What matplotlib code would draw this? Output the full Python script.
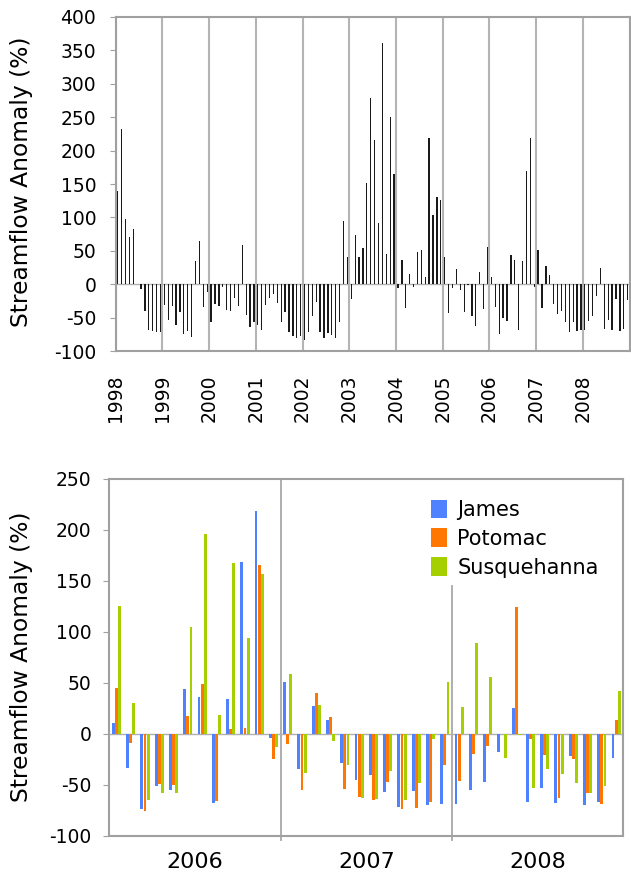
import numpy as np
import matplotlib.pyplot as plt

plt.rcParams["axes.unicode_minus"] = False

years = list(range(1998, 2009))

# monthly streamflow anomaly (%), Jan 1998 - Dec 2005
anom_1998_2005 = [
    140, 232, 98, 70, 82, 0, -7, -40, -68, -70, -72, -72,
    -31, -53, -33, -61, -42, -74, -70, -79, 35, 65, -34, -12,
    -56, -29, -32, -4, -38, -40, -21, -33, 59, -46, -64, -57,
    -61, -68, -31, -20, -14, -28, -56, -41, -72, -78, -81, -78,
    -83, -72, -47, -27, -72, -81, -73, -76, -80, -56, 94, 40,
    -22, 73, 40, 54, 151, 279, 216, 91, 361, 45, 250, 165,
    -5, 36, -35, 15, -4, 48, 51, 11, 219, 103, 130, 126,
    41, -43, -5, 23, -8, -41, -1, -48, -62, 19, -37, 55,
]

# 2006-2008, bottom panel
james = [
    11, -34, -74, -51, -55, 44, 36, -68, 34, 169, 219, -4,
    51, -35, 27, 14, -29, -45, -40, -57, -72, -56, -70, -69,
    -69, -55, -47, -18, 25, -67, -53, -68, -22, -70, -67, -24,
]
potomac = [
    45, -9, -76, -49, -50, 17, 49, -66, 5, 6, 166, -25,
    -10, -55, 40, 16, -54, -62, -65, -47, -74, -73, -67, -31,
    -46, -20, -12, 0, 124, -5, -21, -63, -25, -58, -69, 14,
]
susquehanna = [
    125, 30, -65, -58, -58, 105, 196, 18, 168, 94, 157, -13,
    59, -38, 28, -7, -31, -63, -64, -37, -65, -48, -5, 51,
    26, 89, 56, -24, -1, -53, -35, -39, -48, -58, -51, 42,
]
year_labels = ["2006", "2007", "2008"]

top_vals = np.array(anom_1998_2005 + james)

fig = plt.figure(figsize=(6.31, 8.76), dpi=100)
frame_col = "#a0a0a0"

# ---- top panel
ax1 = fig.add_axes([0.1834, 0.5993, 0.8144, 0.3813])
x1 = years[0] + (np.arange(len(top_vals)) + 0.5) / 12
ax1.bar(x1, top_vals, width=0.33 / 12, color="#1a1a1a", zorder=3)
ax1.axhline(0, color="#b0b0b0", lw=1, zorder=2)
ax1.set_xlim(1998, 2009)
ax1.set_ylim(-100, 400)
ax1.set_yticks(np.arange(-100, 401, 50))
ax1.set_xticks(years)
ax1.set_xticklabels([str(y) for y in years], rotation=90)
ax1.grid(axis="x", color="#b4b4b4", lw=1.5, zorder=1)
ax1.tick_params(axis="x", length=0, pad=17, labelsize=13.5)
ax1.tick_params(axis="y", length=4, pad=10, labelsize=13.5, color=frame_col)
for s in ax1.spines.values():
    s.set_color(frame_col)
    s.set_linewidth(1.5)
fig.text(22 / 631, 1 - 182 / 876, "Streamflow Anomaly (%)", rotation=90,
         ha="center", va="center", fontsize=16.8)

# ---- bottom panel
ax2 = fig.add_axes([0.1732, 0.046, 0.8146, 0.4072])
x2 = np.arange(len(james)) + 0.5
w = 0.2
ax2.bar(x2 - 0.22, james, w, color="#4f82ff", label="James", zorder=3)
ax2.bar(x2, potomac, w, color="#ff7700", label="Potomac", zorder=3)
ax2.bar(x2 + 0.22, susquehanna, w, color="#a5cf00", label="Susquehanna", zorder=3)
ax2.axhline(0, color="#b0b0b0", lw=1, zorder=2)
ax2.set_xlim(0, 36)
ax2.set_ylim(-100, 250)
ax2.set_yticks(np.arange(-100, 251, 50))
ax2.axvline(12, ymin=-0.012, ymax=1, color="#a8a8a8", lw=1.3, clip_on=False, zorder=1)
ax2.axvline(24, ymin=-0.012, ymax=0.70, color="#a8a8a8", lw=1.3, clip_on=False, zorder=1)
ax2.set_xticks([6, 18, 30])
ax2.set_xticklabels(year_labels)
ax2.tick_params(axis="x", length=0, pad=12, labelsize=16)
ax2.tick_params(axis="y", length=4, pad=9, labelsize=13.5, color=frame_col)
for s in ax2.spines.values():
    s.set_color(frame_col)
    s.set_linewidth(1.5)
ax2.legend(loc="upper left", bbox_to_anchor=(0.59, 0.995), frameon=False,
           fontsize=15, handlelength=0.75, handleheight=1.0, handletextpad=0.5,
           labelspacing=0.4)
fig.text(22 / 631, 1 - 657 / 876, "Streamflow Anomaly (%)", rotation=90,
         ha="center", va="center", fontsize=16.8)

fig.savefig("out.png", dpi=100)
